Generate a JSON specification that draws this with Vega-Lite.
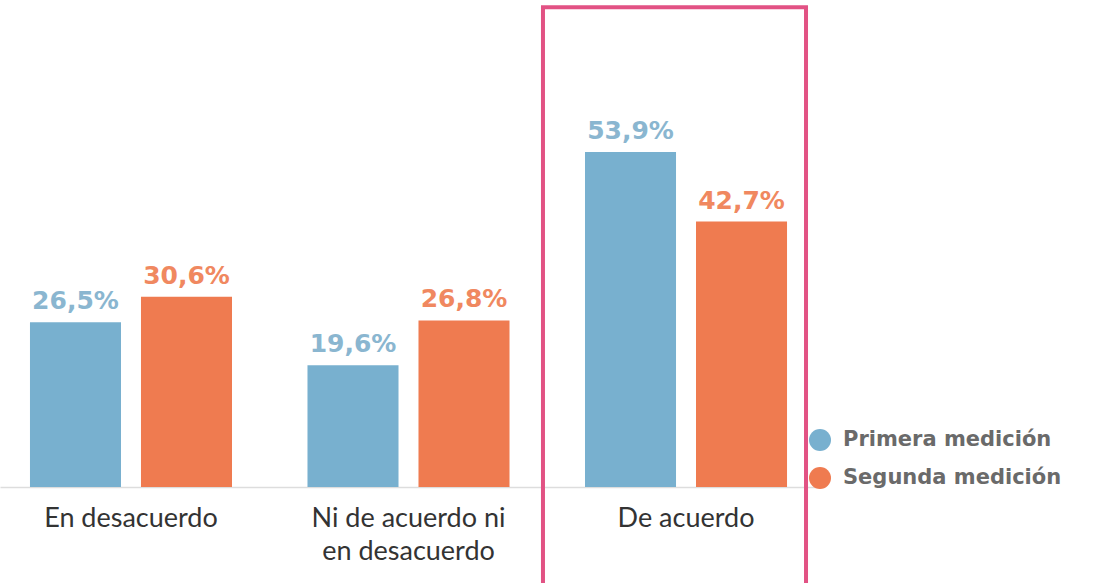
{
  "$schema": "https://vega.github.io/schema/vega-lite/v6.json",
  "width": 817,
  "height": 487,
  "autosize": "none",
  "padding": {"left": 0, "top": 0, "right": 280, "bottom": 96},
  "background": "white",
  "config": {"view": {"stroke": null}, "font": "Lato"},
  "datasets": {
    "bars": [
      {"cat": "En desacuerdo", "serie": "Primera medición", "value": 26.5, "label": "26,5%"},
      {"cat": "En desacuerdo", "serie": "Segunda medición", "value": 30.6, "label": "30,6%"},
      {"cat": "Ni de acuerdo ni en desacuerdo", "serie": "Primera medición", "value": 19.6, "label": "19,6%"},
      {"cat": "Ni de acuerdo ni en desacuerdo", "serie": "Segunda medición", "value": 26.8, "label": "26,8%"},
      {"cat": "De acuerdo", "serie": "Primera medición", "value": 53.9, "label": "53,9%"},
      {"cat": "De acuerdo", "serie": "Segunda medición", "value": 42.7, "label": "42,7%"}
    ],
    "box": [{"cat": "De acuerdo", "top": 77.2, "bottom": -20}]
  },
  "layer": [
    {
      "data": {"name": "bars"},
      "mark": {"type": "bar"},
      "encoding": {
        "x": {
          "field": "cat", "type": "nominal",
          "sort": null,
          "scale": {"domain": ["En desacuerdo", "Ni de acuerdo ni en desacuerdo", "De acuerdo"], "paddingInner": 0.272, "paddingOuter": 0.108},
          "axis": {
            "title": null, "ticks": false, "labelAngle": 0,
            "labelFontSize": 27, "labelColor": "#333333", "labelPadding": 18,
            "labelLineHeight": 33, "labelBaseline": "top", "labelLimit": 400,
            "domainColor": "#dddddd", "domainWidth": 1.5,
            "labelExpr": "datum.value == 'Ni de acuerdo ni en desacuerdo' ? ['Ni de acuerdo ni', 'en desacuerdo'] : datum.value"
          }
        },
        "xOffset": {"field": "serie", "type": "nominal", "scale": {"paddingInner": 0.18, "paddingOuter": 0}},
        "y": {"field": "value", "type": "quantitative", "scale": {"domain": [0, 78.36], "nice": false, "zero": true}, "axis": null},
        "color": {
          "field": "serie", "type": "nominal",
          "scale": {"domain": ["Primera medición", "Segunda medición"], "range": ["#78b0cf", "#ef7b50"]},
          "legend": {
            "title": null, "orient": "none", "legendX": 809, "legendY": 429,
            "symbolType": "circle", "symbolSize": 484, "symbolStrokeWidth": 0,
            "labelFont": "DejaVu Sans", "labelFontSize": 21, "labelFontWeight": "bold", "labelColor": "#6a6a6a", "labelOffset": 12,
            "rowPadding": 16, "labelLimit": 400
          }
        }
      }
    },
    {
      "data": {"name": "bars"},
      "mark": {"type": "text", "baseline": "bottom", "dy": -8, "fontSize": 25, "font": "DejaVu Sans", "fontWeight": "bold"},
      "encoding": {
        "x": {"field": "cat", "type": "nominal", "sort": null},
        "xOffset": {"field": "serie", "type": "nominal"},
        "y": {"field": "value", "type": "quantitative"},
        "text": {"field": "label"},
        "color": {
          "field": "serie", "type": "nominal",
          "scale": {"domain": ["Primera medición", "Segunda medición"], "range": ["#8ab6d0", "#f08860"]},
          "legend": null
        }
      }
    },
    {
      "data": {"name": "box"},
      "mark": {"type": "rect", "fill": null, "stroke": "#e25284", "strokeWidth": 4, "clip": false},
      "encoding": {
        "x": {"field": "cat", "type": "nominal", "bandPosition": -0.208},
        "x2": {"field": "cat", "bandPosition": 1.094},
        "y": {"field": "top", "type": "quantitative"},
        "y2": {"field": "bottom"}
      }
    }
  ],
  "resolve": {"scale": {"color": "independent"}}
}
